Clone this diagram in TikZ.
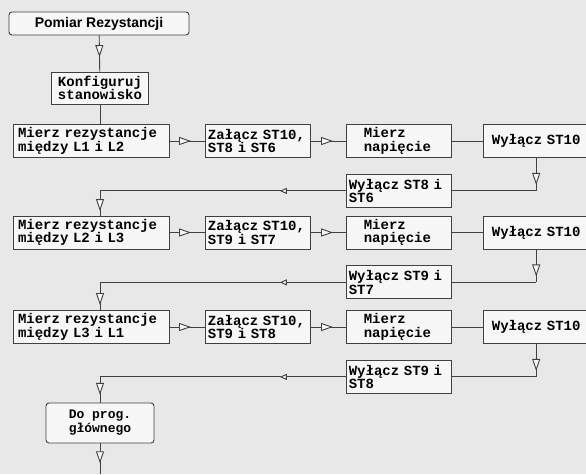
\documentclass[tikz,border=0pt]{standalone}
\usepackage{fontspec}
\setmainfont{Liberation Sans}
\newfontfamily\boxfont{Liberation Mono}
\usetikzlibrary{positioning, arrows.meta, decorations.markings}

\tikzset{
  arrowat/.style={postaction={decorate, decoration={markings,
      mark=at position #1 with {\arrow{Triangle[length=12pt, width=8pt, fill=black!3]}}}}},
  arrowsmall/.style={postaction={decorate, decoration={markings,
      mark=at position #1 with {\arrow{Triangle[length=7pt, width=6pt, fill=black!3]}}}}}
}

\begin{document}
\begin{tikzpicture}[x=1pt, y=-1pt, line width=0.9pt]
    \tikzstyle{box} = [rectangle, draw=black!75, fill=black!3, font=\boxfont\bfseries\fontsize{14pt}{13.5pt}\selectfont, inner xsep=2pt, inner ysep=2pt, minimum height=33pt, align=left]
    \tikzstyle{wide} = [box, text width=146pt, inner xsep=5pt]
    \tikzstyle{narrow} = [box, text width=101pt]
    \tikzstyle{meas} = [box, text width=71pt, inner xsep=17pt]
    \tikzstyle{off} = [box, text width=101pt, align=center]
    \tikzstyle{term} = [rectangle, draw=black!75, fill=black!3, rounded corners=3pt, align=center]
    \tikzstyle{conn} = [draw=black!75]

    \fill [black!9] (0,0) rectangle (586,474);
    \useasboundingbox (0,0) rectangle (586,474);

    \node (title) [term, minimum width=180pt, minimum height=23pt, font=\bfseries\fontsize{14pt}{14pt}\selectfont] at (99,23.5) {Pomiar Rezystancji};
    \node (konf) [box, text width=93pt, align=center, minimum height=32pt] at (100,88) {Konfiguruj\\stanowisko};

    % L1 - L2
    \node (m1) [wide] at (91,141) {Mierz rezystancje\\między L1 i L2};
    \node (z1) [narrow, right=36pt of m1] {Załącz ST10,\\ST8 i ST6};
    \node (n1) [meas, right=35pt of z1] {Mierz\\napięcie};
    \node (w1) [off, right=31pt of n1] {Wyłącz ST10};
    \node (o1) [narrow, below=16pt of n1] {Wyłącz ST8 i\\ST6};

    % L2 - L3
    \node (m2) [wide] at (91,232.5) {Mierz rezystancje\\między L2 i L3};
    \node (z2) [narrow, right=36pt of m2] {Załącz ST10,\\ST9 i ST7};
    \node (n2) [meas, right=35pt of z2] {Mierz\\napięcie};
    \node (w2) [off, right=31pt of n2] {Wyłącz ST10};
    \node (o2) [narrow, below=16pt of n2] {Wyłącz ST9 i\\ST7};

    % L3 - L1
    \node (m3) [wide] at (91,327) {Mierz rezystancje\\między L3 i L1};
    \node (z3) [narrow, right=36pt of m3] {Załącz ST10,\\ST9 i ST8};
    \node (n3) [meas, right=35pt of z3] {Mierz\\napięcie};
    \node (w3) [off, right=31pt of n3] {Wyłącz ST10};
    \node (o3) [narrow, below=16pt of n3] {Wyłącz ST9 i\\ST8};

    \node (done) [term, font=\boxfont\bfseries\fontsize{13pt}{14pt}\selectfont, minimum width=108pt, minimum height=40pt] at (100,423) {Do prog.\\głównego};
    \coordinate (end) at (100,474);

    \draw [conn, arrowat=0.6] (title) -- (konf);
    \draw [conn] (konf) -- (konf |- m1.north);

    \draw [conn, arrowat=0.6] (m1) -- (z1);
    \draw [conn, arrowat=0.62] (z1) -- (n1);
    \draw [conn] (n1) -- (w1);
    \draw [conn, arrowat=0.82] (w1) -- (w1 |- o1);
    \draw [conn] (w1 |- o1) -- (o1);
    \draw [conn, arrowsmall=0.27] (o1) -- (konf |- o1);
    \draw [conn, arrowat=0.82] (konf |- o1) -- (konf |- m2.north);

    \draw [conn, arrowat=0.6] (m2) -- (z2);
    \draw [conn, arrowat=0.62] (z2) -- (n2);
    \draw [conn] (n2) -- (w2);
    \draw [conn, arrowat=0.82] (w2) -- (w2 |- o2);
    \draw [conn] (w2 |- o2) -- (o2);
    \draw [conn, arrowsmall=0.27] (o2) -- (konf |- o2);
    \draw [conn, arrowat=0.82] (konf |- o2) -- (konf |- m3.north);

    \draw [conn, arrowat=0.6] (m3) -- (z3);
    \draw [conn, arrowat=0.62] (z3) -- (n3);
    \draw [conn] (n3) -- (w3);
    \draw [conn, arrowat=0.82] (w3) -- (w3 |- o3);
    \draw [conn] (w3 |- o3) -- (o3);
    \draw [conn, arrowsmall=0.27] (o3) -- (konf |- o3);
    \draw [conn, arrowat=0.7] (konf |- o3) -- (done);
    \draw [conn, arrowat=0.65] (done) -- (end);

\end{tikzpicture}
\end{document}
